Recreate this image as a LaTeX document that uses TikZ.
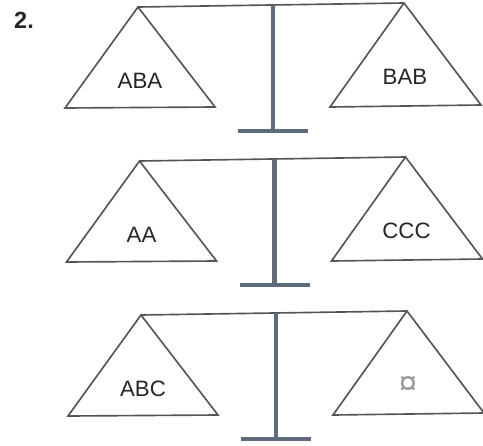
\documentclass[tikz,border=0pt]{standalone}
\usepackage{fontspec}
\setmainfont{Liberation Sans}
\usepackage{xcolor}
\definecolor{polegray}{RGB}{95,107,122}
\definecolor{pangray}{RGB}{85,85,85}
\usepackage{tikz}
\usetikzlibrary{calc}

\begin{document}
\begin{tikzpicture}[x=0.03cm, y=-0.03cm,
    pan/.style={draw=pangray, line width=1.4pt, line join=miter},
    beam/.style={draw=pangray, line width=1.4pt},
    pole/.style={draw=polegray, line width=3.6pt},
    stand/.style={draw=polegray, line width=3.4pt},
    load/.style={font=\fontsize{19}{22}\selectfont, text=black!85, inner sep=0pt},
  ]
    \useasboundingbox (0,0) rectangle (483,445);
    \node[font=\fontsize{20}{24}\selectfont\bfseries, text=black!85, inner sep=0pt] (num) at (24,20) {2.};

    \foreach \i/\dx/\dy/\lt/\rt in {1/0/0/ABA/BAB, 2/1.5/154/AA/CCC, 3/3/308/ABC/{\fontsize{28}{28}\selectfont\color{gray!80}¤}}{
      \begin{scope}[shift={(\dx,\dy)}]
        % beam and hangers
        \coordinate (lhook\i) at (138,7);
        \coordinate (rhook\i) at (404,3);
        \coordinate (top\i)   at (273,5);
        \coordinate (foot\i)  at (273,131);
        \draw[beam] (lhook\i) -- (rhook\i);
        \draw[pole] (top\i) -- (foot\i);
        \draw[stand] ($(foot\i)+(-35,0)$) -- ($(foot\i)+(35,0)$);
        % pans
        \draw[pan] (lhook\i) -- (65,108) -- (215,107) -- cycle;
        \draw[pan] (rhook\i) -- (330,107) -- (481,105) -- cycle;
        \node[load] (lload\i) at (140,81) {\lt};
        \node[load] (rload\i) at (405,77) {\rt};
      \end{scope}
    }
  \end{tikzpicture}
\end{document}
